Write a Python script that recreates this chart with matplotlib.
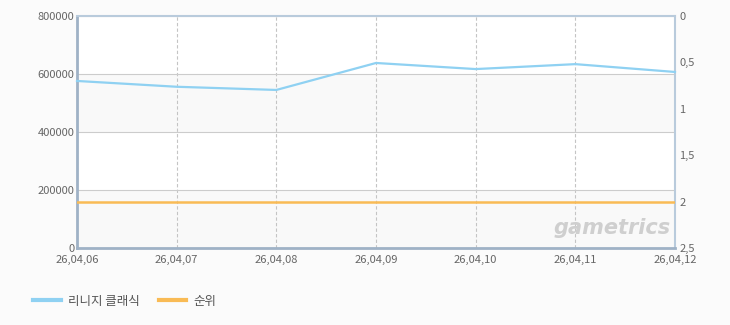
import matplotlib
matplotlib.use("Agg")
import matplotlib.pyplot as plt
from matplotlib.lines import Line2D

plt.rcParams['font.family'] = ['Noto Sans CJK KR', 'DejaVu Sans']

dates = ["26,04,06", "26,04,07", "26,04,08", "26,04,09", "26,04,10", "26,04,11", "26,04,12"]
users = [576000, 556000, 545000, 638000, 617000, 634000, 607000]
rank = [2, 2, 2, 2, 2, 2, 2]
series_names = ["리니지 클래식", "순위"]
left_ticks = [0, 200000, 400000, 600000, 800000]
right_ticks = [0, 0.5, 1, 1.5, 2, 2.5]
right_labels = ["0", "0,5", "1", "1,5", "2", "2,5"]

blue = "#8fd1f2"
orange = "#f9bb55"
tick_color = "#666666"

fig = plt.figure(figsize=(7.3, 3.25), dpi=100, facecolor="#fbfbfb")
ax = fig.add_axes([77/730, 1-248/325, (675-77)/730, (248-16)/325])
ax.set_facecolor("white")
x = list(range(len(dates)))

# alternating bands
for i in range(len(left_ticks) - 1):
    if i % 2 == 0:
        ax.axhspan(left_ticks[i], left_ticks[i+1], color="#f9f9f9", zorder=0, lw=0)

ax.set_xlim(0, len(dates) - 1)
ax.set_ylim(0, 800000)
ax.set_yticks(left_ticks)
ax.set_yticklabels([str(v) for v in left_ticks])
ax.set_xticks(x)
ax.set_xticklabels(dates)
ax.grid(axis="y", color="#cccccc", lw=0.8, ls="-", zorder=1)
ax.grid(axis="x", color="#c4c4c4", lw=0.8, ls=(0, (3, 2)), zorder=1)
ax.tick_params(axis="both", colors=tick_color, labelsize=8, length=0, pad=2)
ax.tick_params(axis="x", pad=5)
for s in ["top", "right"]:
    ax.spines[s].set_color("#b9cbdc")
    ax.spines[s].set_linewidth(1.5)
for s in ["left", "bottom"]:
    ax.spines[s].set_color("#9fb2c6")
    ax.spines[s].set_linewidth(2)

ax.plot(x, users, color=blue, lw=1.6, zorder=3, clip_on=False)

ax2 = ax.twinx()
ax2.set_ylim(2.5, 0)
ax2.set_yticks(right_ticks)
ax2.set_yticklabels(right_labels)
ax2.tick_params(axis="y", colors=tick_color, labelsize=8, length=0, pad=3)
for s in ax2.spines.values():
    s.set_visible(False)
ax2.plot(x, rank, color=orange, lw=1.8, zorder=3)

# watermark
fig.text(612/730, 1-228/325, "gametrics", fontsize=15, fontstyle="italic", fontweight="bold",
         color="#cfcfcf", ha="center", va="center", family="DejaVu Sans")

handles = [Line2D([], [], color=blue, lw=3), Line2D([], [], color=orange, lw=3)]
fig.legend(handles, series_names, loc="center left", bbox_to_anchor=(22/730, 1-301/325),
           ncol=2, frameon=False, fontsize=9, labelcolor="#555555", handlelength=2.2,
           columnspacing=1.5, handletextpad=0.6)

fig.savefig("out.png", dpi=100, facecolor=fig.get_facecolor())
